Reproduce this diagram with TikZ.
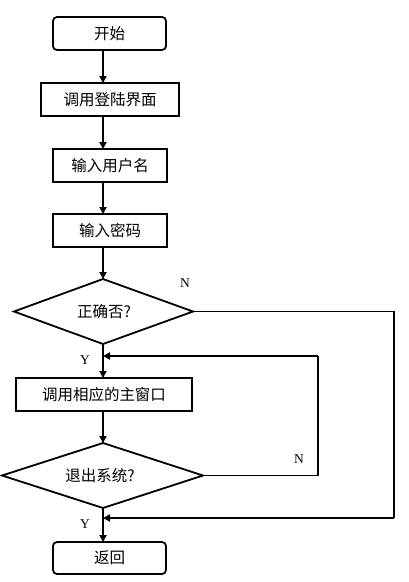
\documentclass[tikz,border=0pt]{standalone}
\usepackage{fontspec}
\setmainfont{Liberation Serif}
\newfontfamily\cjk{Noto Sans CJK SC}
\usetikzlibrary{shapes.geometric,arrows.meta}
\begin{document}
\begin{tikzpicture}[x=1pt,y=-1pt,
  every node/.style={inner sep=0pt, outer sep=0pt},
  box/.style={draw, line width=1.8pt, font=\cjk\fontsize{15.5}{17}\selectfont},
  rbox/.style={box, rounded corners=4pt},
  qtext/.style={font=\cjk\fontsize{15.5}{17}\selectfont},
  lbl/.style={font=\fontsize{13.5}{15}\selectfont},
  arr/.style={line width=1.8pt, -{Triangle[length=7pt,width=7pt]}},
  ln/.style={line width=1.8pt}]
\useasboundingbox (0,0) rectangle (408,582);
\fill[white] (0,0) rectangle (408,582);
\node[rbox, minimum width=113pt, minimum height=33pt] (start) at (109.5,33.5) {开始};
\node[box, minimum width=138pt, minimum height=33pt] (login) at (110,99.5) {调用登陆界面};
\node[box, minimum width=114pt, minimum height=33pt] (user) at (110,165.5) {输入用户名};
\node[box, minimum width=114pt, minimum height=33pt] (pwd) at (110,230.5) {输入密码};
\draw[ln] (103,279) -- (193,311.5) -- (103,344) -- (14,311.5) -- cycle;
\coordinate (d1t) at (103,279); \coordinate (d1r) at (193,311.5); \coordinate (d1b) at (103,344);
\node[qtext] (q1) at (104,311.5) {正确否?};
\node[box, minimum width=176pt, minimum height=33pt] (main) at (104,394.5) {调用相应的主窗口};
\draw[ln] (103,443) -- (203,475.5) -- (103,508) -- (2,475.5) -- cycle;
\coordinate (d2t) at (103,443); \coordinate (d2r) at (203,475.5); \coordinate (d2b) at (103,508);
\node[qtext] (q2) at (100,475.5) {退出系统?};
\node[rbox, minimum width=113pt, minimum height=32pt] (ret) at (109.5,558) {返回};
\coordinate (j1) at (103,356);
\coordinate (j2) at (103,518);
\coordinate (r1) at (394,311.5);
\coordinate (r2) at (394,518);
\coordinate (l1) at (318,475.5);
\coordinate (l2) at (318,356);
\draw[arr] (103,50) -- (103,83);
\draw[arr] (103,116) -- (103,149);
\draw[arr] (103,182) -- (103,214);
\draw[arr] (103,247) -- (d1t);
\draw[arr] (d1b) -- (103,378);
\draw[arr] (103,411) -- (d2t);
\draw[arr] (d2b) -- (103,542);
\draw[ln] (d1r) -- (r1) -- (r2);
\draw[arr] (r2) -- (j2);
\draw[ln] (d2r) -- (l1) -- (l2);
\draw[arr] (l2) -- (j1);
\node[lbl] (n1) at (185,283) {N};
\node[lbl] (y1) at (85,360) {Y};
\node[lbl] (n2) at (299,459) {N};
\node[lbl] (y2) at (85,524) {Y};
\end{tikzpicture}
\end{document}
